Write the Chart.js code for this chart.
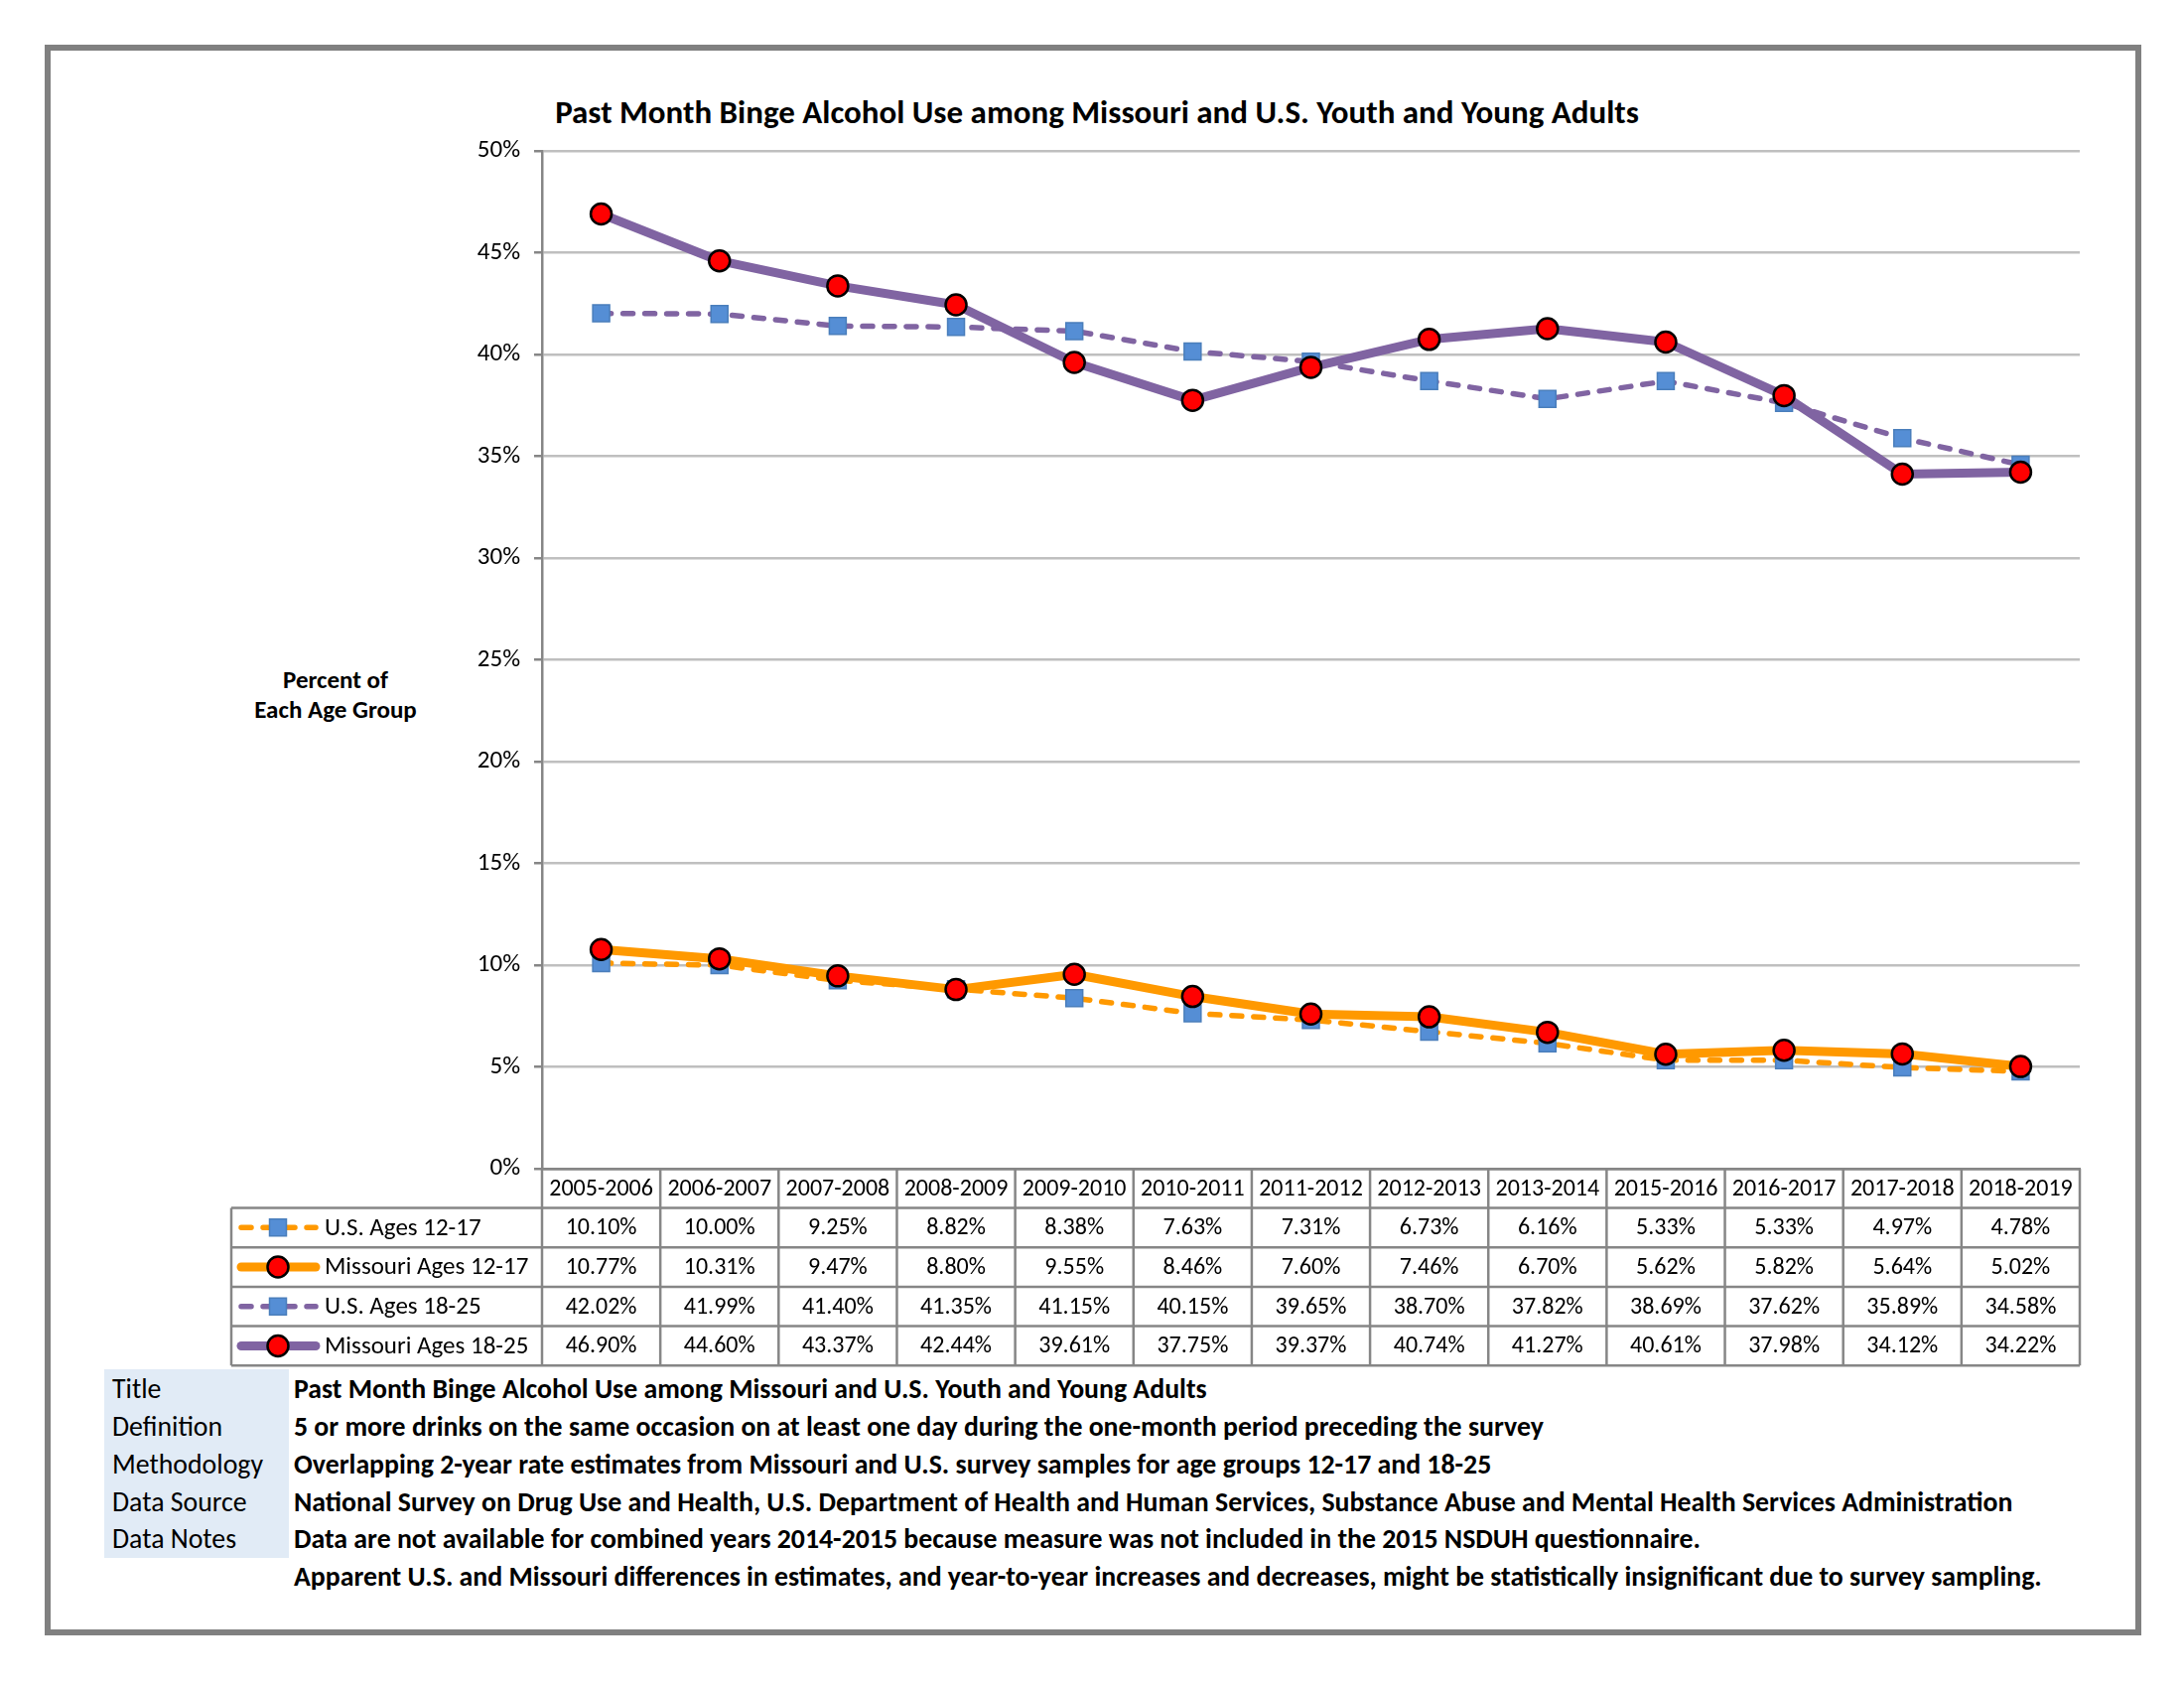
<!DOCTYPE html>
<html>
<head>
<meta charset="utf-8">
<script src="https://cdn.jsdelivr.net/npm/chart.js@4.4.1/dist/chart.umd.min.js"></script>
<style>
  html, body { margin: 0; padding: 0; background: #fff; }
  body { width: 2200px; height: 1700px; position: relative; overflow: hidden;
         font-family: Carlito, Calibri, Lato, sans-serif; color: #000; }
  #frame { position: absolute; left: 45px; top: 45px; width: 2100px; height: 1590px;
           border: 6px solid #808080; }
  #chartBox { position: absolute; left: 0; top: 0; width: 2200px; height: 1700px; }
  #title { position: absolute; left: 46px; width: 2118px; top: 93px; height: 40px; line-height: 40px;
           text-align: center; font-weight: bold; font-size: 33px; white-space: nowrap; }
  #ytitle { position: absolute; left: 208px; width: 260px; top: 670px; text-align: center;
            font-weight: bold; font-size: 25px; line-height: 30px; white-space: nowrap; }
  #labelsBg { position: absolute; left: 105px; top: 1379px; width: 186px; height: 190px; background: #E1EBF6; }
  .fl { position: absolute; height: 34px; line-height: 34px; font-size: 27.8px; white-space: nowrap; }
  .lab { left: 113px; }
  .val { left: 296px; font-weight: bold; }
</style>
</head>
<body>
<div id="frame"></div>
<div id="title"></div>
<div id="ytitle">Percent of<br>Each Age Group</div>
<div id="labelsBg"></div>
<div id="footer"></div>
<div id="chartBox"><canvas id="c" width="2200" height="1700"></canvas></div>
<script>
// ---- Data ----
const chartTitle = "Past Month Binge Alcohol Use among Missouri and U.S. Youth and Young Adults";
const categories = ["2005-2006","2006-2007","2007-2008","2008-2009","2009-2010","2010-2011","2011-2012",
                    "2012-2013","2013-2014","2015-2016","2016-2017","2017-2018","2018-2019"];
const seriesNames = ["U.S. Ages 12-17","Missouri Ages 12-17","U.S. Ages 18-25","Missouri Ages 18-25"];
const usYouth     = [10.10,10.00,9.25,8.82,8.38,7.63,7.31,6.73,6.16,5.33,5.33,4.97,4.78];
const moYouth     = [10.77,10.31,9.47,8.80,9.55,8.46,7.60,7.46,6.70,5.62,5.82,5.64,5.02];
const usAdult     = [42.02,41.99,41.40,41.35,41.15,40.15,39.65,38.70,37.82,38.69,37.62,35.89,34.58];
const moAdult     = [46.90,44.60,43.37,42.44,39.61,37.75,39.37,40.74,41.27,40.61,37.98,34.12,34.22];
const yTicks = {min: 0, max: 50, step: 5};
const footerLabels = ["Title","Definition","Methodology","Data Source","Data Notes",""];
const footerValues = [
  "Past Month Binge Alcohol Use among Missouri and U.S. Youth and Young Adults",
  "5 or more drinks on the same occasion on at least one day during the one-month period preceding the survey",
  "Overlapping 2-year rate estimates from Missouri and U.S. survey samples for age groups 12-17 and 18-25",
  "National Survey on Drug Use and Health, U.S. Department of Health and Human Services, Substance Abuse and Mental Health Services Administration",
  "Data are not available for combined years 2014-2015 because measure was not included in the 2015 NSDUH questionnaire.",
  "Apparent U.S. and Missouri differences in estimates, and year-to-year increases and decreases, might be statistically insignificant due to survey sampling."
];

// ---- Styles ----
const FONT = "Carlito, Calibri, Lato, sans-serif";
const ORANGE = "#FF9900", PURPLE = "#8064A2";
const AXIS = "#868686", GRID = "#BFBFBF";

document.getElementById('title').textContent = chartTitle;
const footer = document.getElementById('footer');
const rowCenters = [1399, 1437, 1475, 1513, 1550, 1588];
footerLabels.forEach((t, i) => {
  const d1 = document.createElement('div'); d1.className = 'fl lab'; d1.style.top = (rowCenters[i] - 17) + 'px'; d1.textContent = t; footer.appendChild(d1);
  const d2 = document.createElement('div'); d2.className = 'fl val'; d2.style.top = (rowCenters[i] - 17) + 'px'; d2.textContent = footerValues[i]; footer.appendChild(d2);
});

function usStyle(color) {
  return { borderColor: color, backgroundColor: color, borderWidth: 5.5, borderDash: [10, 12],
           borderCapStyle: 'round', borderJoinStyle: 'round', tension: 0,
           pointStyle: 'rect', pointRadius: 12, pointHoverRadius: 12,
           pointBackgroundColor: '#558ED5', pointBorderColor: '#4A7EBB', pointBorderWidth: 1.5, order: 1 };
}
function moStyle(color) {
  return { borderColor: color, backgroundColor: color, borderWidth: 9,
           borderCapStyle: 'round', borderJoinStyle: 'round', tension: 0,
           pointStyle: 'circle', pointRadius: 10.5, pointHoverRadius: 10.5,
           pointBackgroundColor: '#FF0000', pointBorderColor: '#000000', pointBorderWidth: 2.5, order: 0 };
}
const seriesData = [usYouth, moYouth, usAdult, moAdult];
const seriesStyles = [usStyle(ORANGE), moStyle(ORANGE), usStyle(PURPLE), moStyle(PURPLE)];

// ---- Data table plugin (drawn from the x scale) ----
const tablePlugin = {
  id: 'dataTable',
  afterDraw(chart) {
    const ctx = chart.ctx, xs = chart.scales.x, area = chart.chartArea;
    const n = categories.length;
    const colW = xs.getPixelForValue(1) - xs.getPixelForValue(0);
    const x0 = xs.getPixelForValue(0) - colW / 2;
    const xR = x0 + n * colW;
    const top = area.bottom;
    const headH = 39.5, rowH = 39.7;
    const legLeft = 233;
    const rowsY = [top, top + headH];
    for (let r = 1; r <= seriesNames.length; r++) rowsY.push(top + headH + r * rowH);
    const bottom = rowsY[rowsY.length - 1];
    ctx.save();
    ctx.strokeStyle = AXIS; ctx.lineWidth = 2.5; ctx.lineCap = 'butt';
    ctx.beginPath();
    for (let r = 1; r < rowsY.length; r++) { ctx.moveTo(legLeft, rowsY[r]); ctx.lineTo(xR, rowsY[r]); }
    for (let c = 0; c <= n; c++) { const x = x0 + c * colW; ctx.moveTo(x, top); ctx.lineTo(x, bottom); }
    ctx.moveTo(legLeft, rowsY[1]); ctx.lineTo(legLeft, bottom);
    ctx.stroke();
    ctx.fillStyle = '#000'; ctx.textAlign = 'center'; ctx.textBaseline = 'middle';
    ctx.font = `24px ${FONT}`;
    categories.forEach((cat, c) => ctx.fillText(cat, xs.getPixelForValue(c), (rowsY[0] + rowsY[1]) / 2 + 1));
    seriesNames.forEach((name, r) => {
      const yc = (rowsY[r + 1] + rowsY[r + 2]) / 2;
      ctx.font = `24px ${FONT}`;
      seriesData[r].forEach((v, c) => ctx.fillText(v.toFixed(2) + '%', xs.getPixelForValue(c), yc + 1));
      const st = seriesStyles[r];
      ctx.save();
      ctx.strokeStyle = st.borderColor; ctx.lineWidth = st.borderWidth; ctx.lineCap = 'round';
      ctx.setLineDash(st.borderDash || []);
      ctx.beginPath(); ctx.moveTo(legLeft + 10, yc); ctx.lineTo(legLeft + 85, yc); ctx.stroke();
      ctx.setLineDash([]);
      const mx = legLeft + 47;
      ctx.fillStyle = st.pointBackgroundColor; ctx.strokeStyle = st.pointBorderColor; ctx.lineWidth = st.pointBorderWidth;
      ctx.beginPath();
      if (st.pointStyle === 'rect') {
        const s = st.pointRadius * Math.SQRT1_2;
        ctx.rect(mx - s, yc - s, 2 * s, 2 * s);
      } else {
        ctx.arc(mx, yc, st.pointRadius, 0, Math.PI * 2);
      }
      ctx.fill(); ctx.stroke();
      ctx.restore();
      ctx.textAlign = 'left';
      ctx.font = `25px ${FONT}`;
      ctx.fillText(name, legLeft + 94, yc + 1);
      ctx.textAlign = 'center';
    });
    ctx.restore();
  }
};

Chart.defaults.font.family = FONT;
Chart.defaults.color = '#000';

new Chart(document.getElementById('c'), {
  type: 'line',
  data: {
    labels: categories,
    datasets: seriesNames.map((name, i) => Object.assign({ label: name, data: seriesData[i] }, seriesStyles[i]))
  },
  options: {
    responsive: false, animation: false, devicePixelRatio: 1,
    layout: { padding: { left: 0, right: 105, top: 152, bottom: 523 } },
    plugins: { legend: { display: false }, title: { display: false }, tooltip: { enabled: false } },
    scales: {
      x: { type: 'category', offset: true,
           ticks: { display: false }, grid: { display: false, drawTicks: false },
           border: { display: true, color: AXIS, width: 2.5 },
           afterFit(s) { s.height = 0; } },
      y: { min: yTicks.min, max: yTicks.max,
           ticks: { stepSize: yTicks.step, callback: v => v + '%', font: { size: 25 }, color: '#000', padding: 14 },
           grid: { color: c => (c.tick && c.tick.value === 0 ? AXIS : GRID), lineWidth: 2.5, tickLength: 8, tickColor: AXIS },
           border: { display: true, color: AXIS, width: 2.5 },
           afterFit(s) { s.width = 546; } }
    }
  },
  plugins: [tablePlugin]
});
</script>
</body>
</html>
